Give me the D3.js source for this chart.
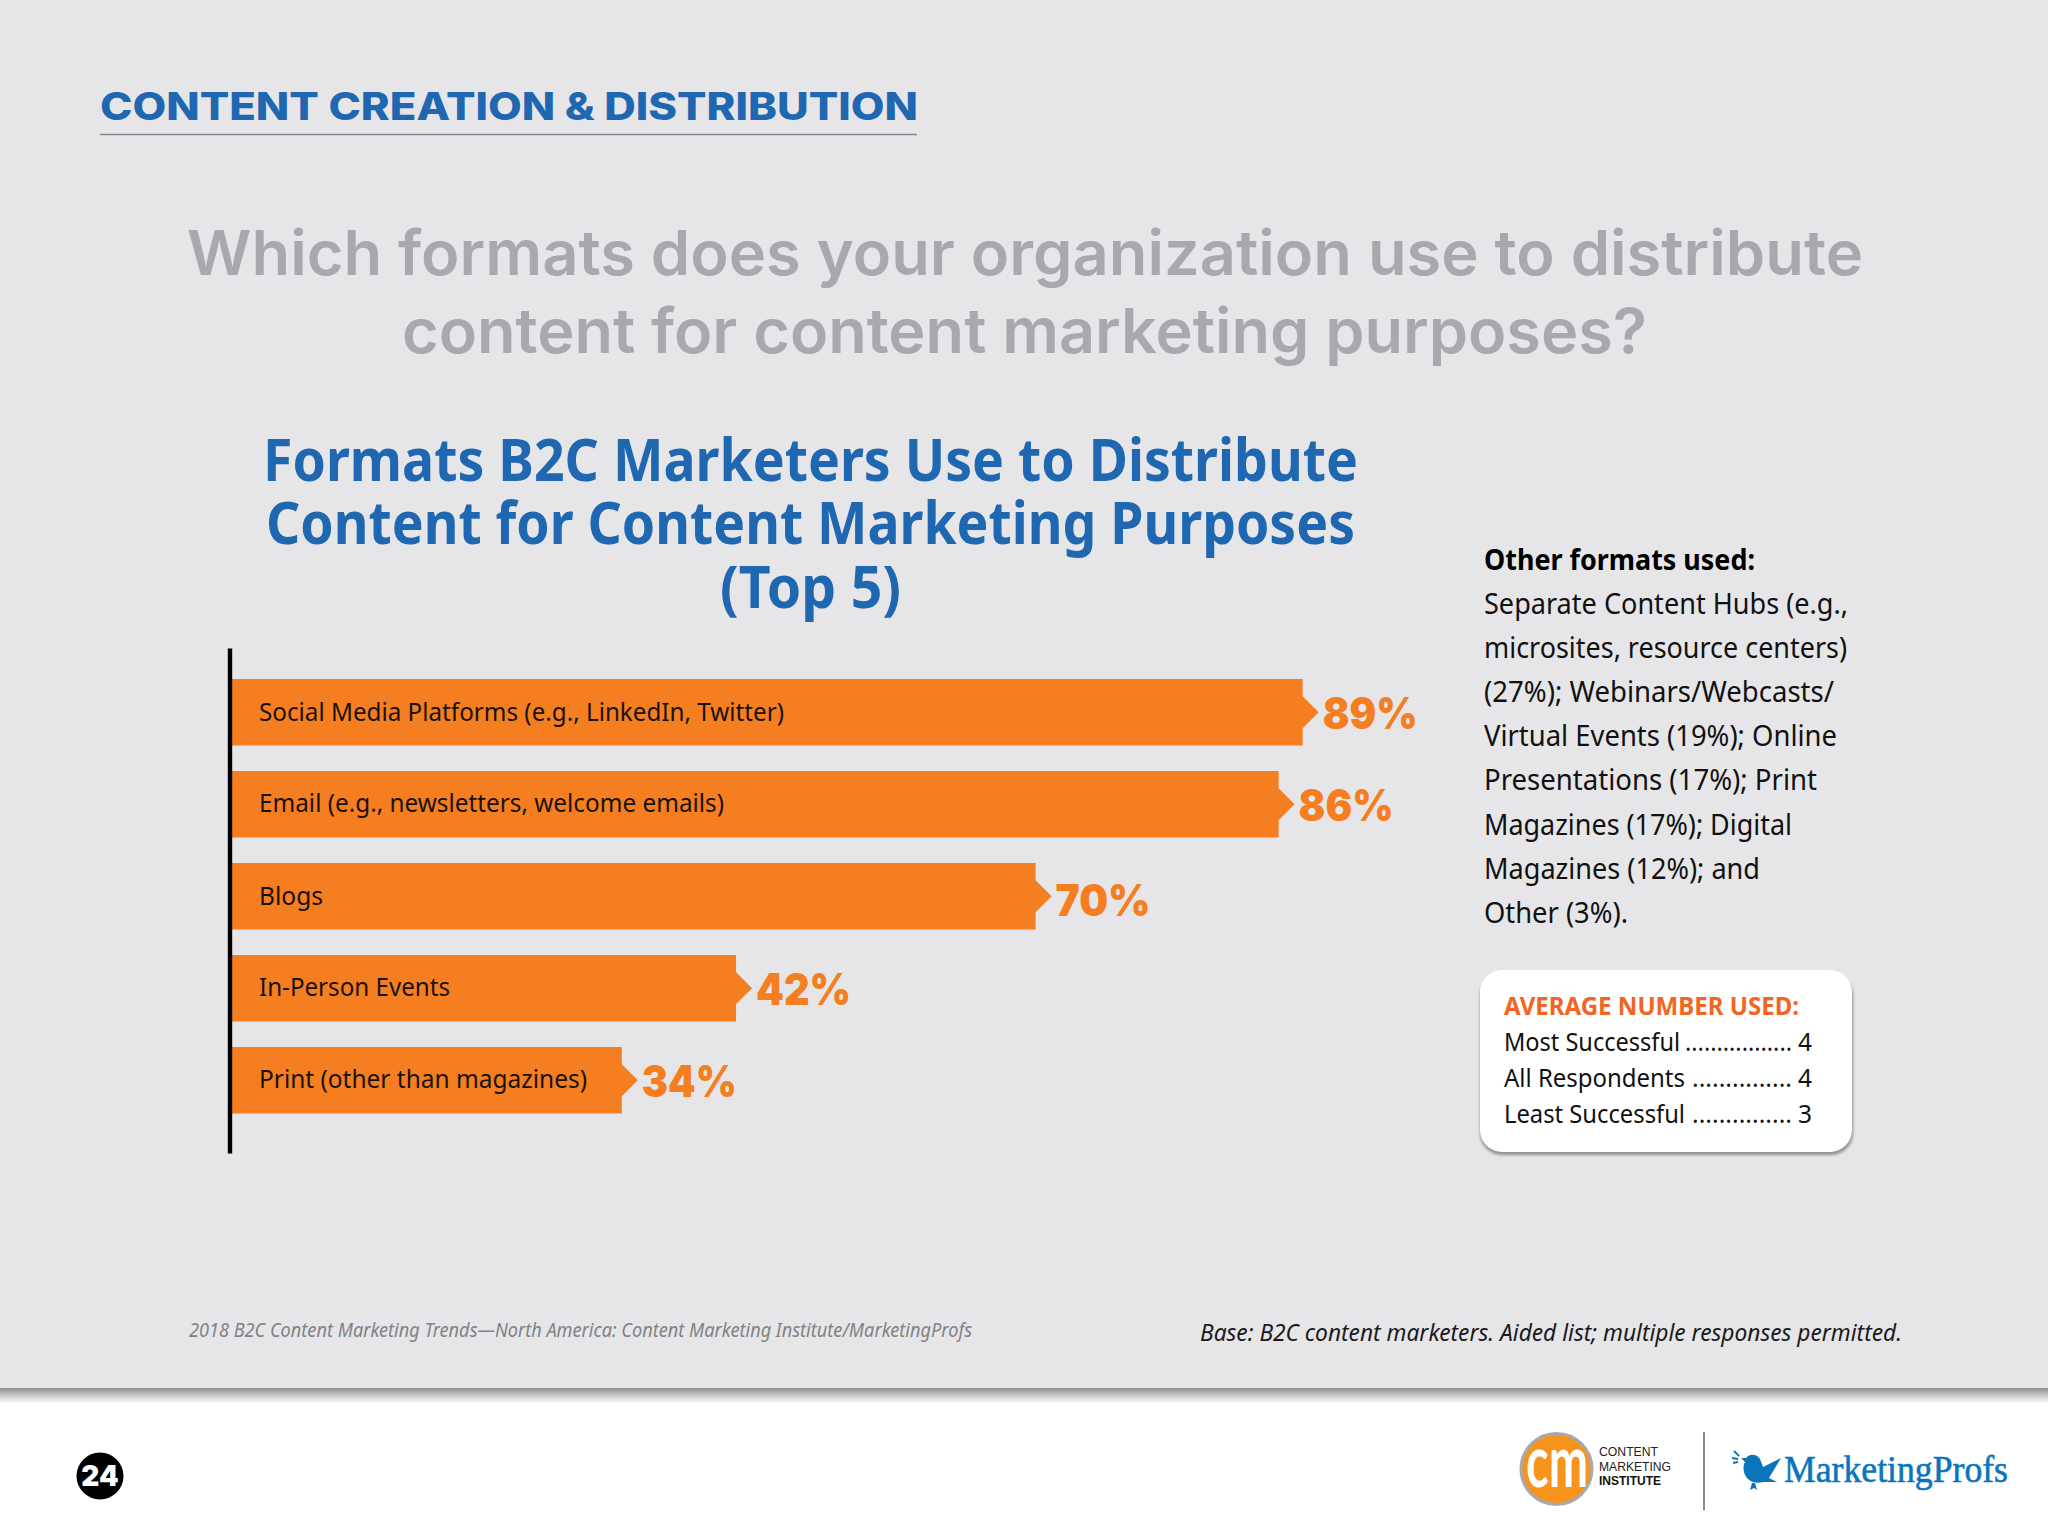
<!DOCTYPE html>
<html>
<head>
<meta charset="utf-8">
<script src="https://cdn.jsdelivr.net/npm/d3@7/dist/d3.min.js"></script>
<style>html,body{margin:0;padding:0;background:#fff}svg{display:block}</style>
</head>
<body>
<svg id="c" width="2048" height="1536" viewBox="0 0 2048 1536"></svg>
<script>
const categories = ["Social Media Platforms (e.g., LinkedIn, Twitter)","Email (e.g., newsletters, welcome emails)","Blogs","In-Person Events","Print (other than magazines)"];
// Printed percentages
const labelValues = [89, 86, 70, 42, 34];
// Bar lengths as drawn in the original, on the same 0-100 scale: its bars are not strictly proportional to the printed labels.
const drawnLengths = [89, 87, 66.8, 41.9, 32.4];
const otherFormatsTitle = "Other formats used:";
const otherFormats = ["Separate Content Hubs (e.g.,","microsites, resource centers)","(27%); Webinars/Webcasts/","Virtual Events (19%); Online","Presentations (17%); Print","Magazines (17%); Digital","Magazines (12%); and","Other (3%)."];
const avgNames = ["Most Successful","All Respondents","Least Successful"];
const avgValues = [4, 4, 3];

const svg = d3.select("#c");
const BODY = "'Noto Sans'", HEAD = "Inter";
const BLUE = "#1f68b1", ORANGE = "#f57e20";

function fit(sel, x, y, str, x2, size, opts = {}) {
  const t = sel.append("text").attr("x", x).attr("y", y).text(str)
    .attr("font-family", opts.family || BODY).attr("font-size", size)
    .attr("font-weight", opts.weight || 400).attr("font-style", opts.style || "normal")
    .attr("fill", opts.fill || "#111")
    .attr("textLength", x2).attr("lengthAdjust", "spacingAndGlyphs");
  if (opts.stroke) t.attr("stroke", opts.fill).attr("stroke-width", opts.stroke);
  return t;
}

// Background panels
const defs = svg.append("defs");
const grad = defs.append("linearGradient").attr("id", "band").attr("x1", 0).attr("x2", 0).attr("y1", 0).attr("y2", 1);
grad.append("stop").attr("offset", 0).attr("stop-color", "#8e8e90");
grad.append("stop").attr("offset", 0.45).attr("stop-color", "#c4c4c6");
grad.append("stop").attr("offset", 1).attr("stop-color", "#fbfbfb");
const blur = defs.append("filter").attr("id", "sh").attr("x", "-5%").attr("y", "-5%").attr("width", "110%").attr("height", "115%");
blur.append("feGaussianBlur").attr("stdDeviation", 1.6);

svg.append("rect").attr("width", 2048).attr("height", 1388).attr("fill", "#e6e6e8");
svg.append("rect").attr("y", 1388).attr("width", 2048).attr("height", 148).attr("fill", "#fff");
svg.append("rect").attr("y", 1388).attr("width", 2048).attr("height", 15).attr("fill", "url(#band)");

// Section header
fit(svg, 100, 120, "CONTENT CREATION & DISTRIBUTION", 818, 38, {family: HEAD, weight: 800, fill: BLUE});
svg.append("line").attr("x1", 100).attr("x2", 917).attr("y1", 134.5).attr("y2", 134.5).attr("stroke", "#85878a").attr("stroke-width", 1.4);

// Question
fit(svg, 187, 275, "Which formats does your organization use to distribute", 1676, 62, {family: HEAD, weight: 600, fill: "#a7a9ac"});
fit(svg, 402, 353, "content for content marketing purposes?", 1245, 62, {family: HEAD, weight: 600, fill: "#a7a9ac"});

// Chart title
fit(svg, 263, 481, "Formats B2C Marketers Use to Distribute", 1095, 60, {weight: 700, fill: BLUE});
fit(svg, 266, 544, "Content for Content Marketing Purposes", 1089, 60, {weight: 700, fill: BLUE});
fit(svg, 720, 608, "(Top 5)", 181, 60, {weight: 700, fill: BLUE});

// Scales
const x = d3.scaleLinear().domain([0, 100]).range([232, 1435]);
const y = d3.scaleBand().domain(categories).range([648, 1153]).paddingInner(0.277).paddingOuter(0.383).align(0.44);

// Bars with arrow tip
const ARROW = 16;
const rows = categories.map((c, i) => ({c, len: drawnLengths[i], label: labelValues[i]}));
const area = d3.line();
svg.append("g").selectAll("path").data(rows).join("path")
  .attr("fill", ORANGE)
  .attr("d", d => {
    const x0 = x(0), x1 = x(d.len), t = y(d.c), b = t + y.bandwidth(), m = (t + b) / 2;
    return area([[x0, t], [x1, t], [x1, m - ARROW], [x1 + ARROW, m], [x1, m + ARROW], [x1, b], [x0, b]]) + "Z";
  });

// Axis line
const axis = svg.append("g").attr("transform", "translate(229.5,0)").call(d3.axisLeft(y).tickSize(0).tickSizeOuter(0).tickFormat(""));
axis.select(".domain").attr("stroke", "#000").attr("stroke-width", 4.4);

// Category labels
const catWidths = [525, 465, 64, 191, 328];
const catNudge = [9, 8, 9, 8, 8];
categories.forEach((c, i) => {
  fit(svg, 259, y(c) + y.bandwidth() / 2 + catNudge[i], c, catWidths[i], 26, {fill: "#1a1208"});
});

// Percent labels
const pctNudge = [17, 17, 20, 17, 17];
rows.forEach((d, i) => {
  fit(svg, x(d.len) + ARROW + 4, y(d.c) + y.bandwidth() / 2 + pctNudge[i], d.label + "%", 95, 44, {family: HEAD, weight: 900, fill: ORANGE});
});

// Other formats
fit(svg, 1484, 570, otherFormatsTitle, 271, 29, {weight: 700, fill: "#000"});
const ofWidths = [364, 363, 350, 353, 333, 308, 276, 144];
otherFormats.forEach((l, i) => fit(svg, 1484, 614 + i * 44.1, l, ofWidths[i], 29, {fill: "#111"}));

// Average box
svg.append("rect").attr("x", 1480).attr("y", 974).attr("width", 373).attr("height", 181).attr("rx", 22).attr("fill", "#8f8f92").attr("filter", "url(#sh)");
svg.append("rect").attr("x", 1480).attr("y", 970).attr("width", 372).attr("height", 182).attr("rx", 22).attr("fill", "#fff");
fit(svg, 1504, 1015, "AVERAGE NUMBER USED:", 295, 25, {weight: 700, fill: "#f26522"});
const nameW = [176, 181, 181], dotX = [1685, 1692, 1692];
avgNames.forEach((n, i) => {
  const by = 1051 + i * 36;
  fit(svg, 1504, by, n, nameW[i], 26, {fill: "#111"});
  fit(svg, dotX[i], by, ".".repeat(i === 0 ? 17 : 15), 1792 - dotX[i], 26, {fill: "#111"});
  fit(svg, 1798, by, String(avgValues[i]), 14, 26, {fill: "#111"});
});

// Footnotes
fit(svg, 189, 1337, "2018 B2C Content Marketing Trends\u2014North America: Content Marketing Institute/MarketingProfs", 783, 20, {style: "italic", fill: "#808285"});
fit(svg, 1200, 1341, "Base: B2C content marketers. Aided list; multiple responses permitted.", 702, 24, {style: "italic", fill: "#1a1a1a"});

// Page number
svg.append("circle").attr("cx", 100).attr("cy", 1476).attr("r", 23.5).attr("fill", "#000");
svg.append("text").attr("x", 100).attr("y", 1486).attr("text-anchor", "middle").text("24")
  .attr("font-family", HEAD).attr("font-weight", 900).attr("font-size", 28).attr("fill", "#fff");

// CMI logo
svg.append("circle").attr("cx", 1556.5).attr("cy", 1469).attr("r", 35.5).attr("fill", "#f7941e").attr("stroke", "#a7a9ac").attr("stroke-width", 3);
fit(svg, 1526, 1487, "cm", 62, 72, {family: "Lato", weight: 700, fill: "#fff"});
fit(svg, 1599, 1456, "CONTENT", 59, 13.5, {family: "'Liberation Sans'", fill: "#222"});
fit(svg, 1599, 1471, "MARKETING", 72, 13.5, {family: "'Liberation Sans'", fill: "#222"});
fit(svg, 1599, 1485, "INSTITUTE", 62, 13.5, {family: "'Liberation Sans'", weight: 700, fill: "#111"});
svg.append("line").attr("x1", 1704).attr("x2", 1704).attr("y1", 1432).attr("y2", 1510).attr("stroke", "#7c7c7e").attr("stroke-width", 1.8);

// MarketingProfs logo
const MP = "#0b75bc";
const bird = svg.append("g").attr("fill", MP);
bird.append("path").attr("d", "M1746 1458 C1750 1453 1757 1454 1760 1459 L1763 1467 L1781 1458 L1769 1478 L1777 1482 L1763 1482 C1755 1484 1749 1482 1745 1475 C1743 1470 1743 1465 1745 1462 L1741 1458 Z");
bird.append("path").attr("d", "M1752 1483 L1750 1490 L1754 1488 L1757 1490 L1755 1483 Z");
const rays = bird.append("g").attr("stroke", MP).attr("stroke-width", 1.8).attr("fill", "none");
rays.append("line").attr("x1", 1734).attr("y1", 1451).attr("x2", 1739).attr("y2", 1456);
rays.append("line").attr("x1", 1732).attr("y1", 1458).attr("x2", 1738).attr("y2", 1459);
rays.append("line").attr("x1", 1733).attr("y1", 1463).attr("x2", 1738).attr("y2", 1462);
fit(svg, 1784, 1482, "MarketingProfs", 224, 38, {family: "'Liberation Serif'", fill: MP, stroke: 0.6});
</script>
</body>
</html>
